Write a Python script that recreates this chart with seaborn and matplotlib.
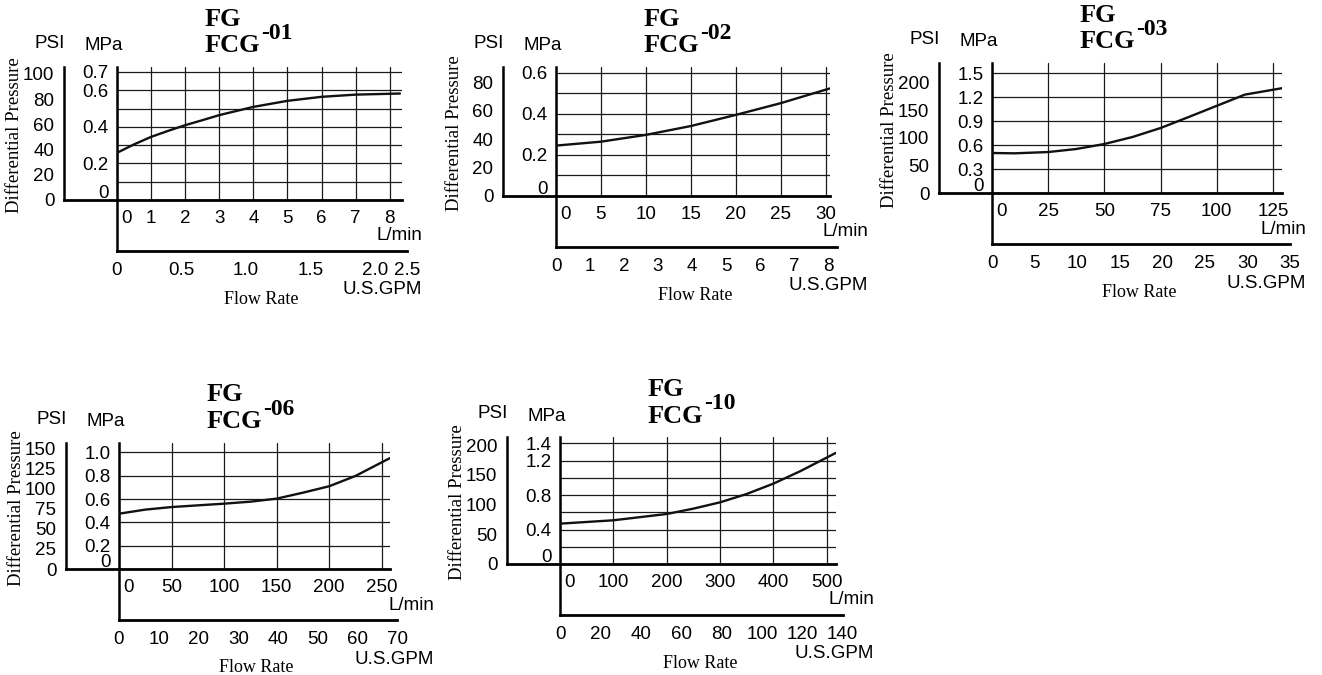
import matplotlib
matplotlib.use("Agg")
import matplotlib.pyplot as plt
import matplotlib.transforms as mtransforms
import pandas as pd
import seaborn as sns

# differential pressure curves
# flow in L/min, pressure drop in MPa
flow_01 = [0, 0.5, 1, 1.5, 2, 2.5, 3, 4, 5, 6, 7, 8.3]
mpa_01 = [0.258, 0.304, 0.345, 0.378, 0.409, 0.436, 0.464, 0.509, 0.542, 0.564, 0.576, 0.582]

flow_02 = [0, 5, 10, 15, 20, 25, 30.5]
mpa_02 = [0.245, 0.264, 0.297, 0.340, 0.394, 0.451, 0.523]

flow_03 = [0, 10, 25, 37.5, 50, 62.5, 75, 87.5, 100, 112.5, 129]
mpa_03 = [0.50, 0.496, 0.512, 0.55, 0.6125, 0.70, 0.8125, 0.95, 1.09, 1.23, 1.31]

flow_06 = [0, 25, 50, 100, 125, 150, 175, 200, 225, 258]
mpa_06 = [0.474, 0.509, 0.531, 0.56, 0.577, 0.603, 0.654, 0.709, 0.797, 0.951]

flow_10 = [0, 100, 200, 250, 300, 350, 400, 450, 517]
mpa_10 = [0.468, 0.507, 0.58, 0.642, 0.715, 0.812, 0.932, 1.075, 1.288]

# axis ticks
lpm_ticks_01 = [0, 1, 2, 3, 4, 5, 6, 7, 8]
lpm_ticks_02 = [0, 5, 10, 15, 20, 25, 30]
lpm_ticks_03 = [0, 25, 50, 75, 100, 125]
lpm_ticks_06 = [0, 50, 100, 150, 200, 250]
lpm_ticks_10 = [0, 100, 200, 300, 400, 500]

mpa_grid_01 = [0, 0.1, 0.2, 0.3, 0.4, 0.5, 0.6, 0.7]
mpa_labels_01 = ['0', '', '0.2', '', '0.4', '', '0.6', '0.7']
mpa_grid_02 = [0, 0.1, 0.2, 0.3, 0.4, 0.5, 0.6]
mpa_labels_02 = ['0', '', '0.2', '', '0.4', '', '0.6']
mpa_grid_03 = [0, 0.3, 0.6, 0.9, 1.2, 1.5]
mpa_labels_03 = ['0', '0.3', '0.6', '0.9', '1.2', '1.5']
mpa_grid_06 = [0, 0.2, 0.4, 0.6, 0.8, 1.0]
mpa_labels_06 = ['0', '0.2', '0.4', '0.6', '0.8', '1.0']
mpa_grid_10 = [0, 0.2, 0.4, 0.6, 0.8, 1.0, 1.2, 1.4]
mpa_labels_10 = ['0', '', '0.4', '', '0.8', '', '1.2', '1.4']

psi_ticks_01 = [0, 20, 40, 60, 80, 100]
psi_ticks_02 = [0, 20, 40, 60, 80]
psi_ticks_03 = [0, 50, 100, 150, 200]
psi_ticks_06 = [0, 25, 50, 75, 100, 125, 150]
psi_ticks_10 = [0, 50, 100, 150, 200]

gpm_ticks_01 = [0, 0.25, 0.5, 0.75, 1.0, 1.25, 1.5, 1.75, 2.0, 2.25]
gpm_labels_01 = ['0', '', '0.5', '', '1.0', '', '1.5', '', '2.0', '2.5']
gpm_ticks_02 = [0, 1, 2, 3, 4, 5, 6, 7, 8]
gpm_ticks_03 = [0, 5, 10, 15, 20, 25, 30, 35]
gpm_ticks_06 = [0, 10, 20, 30, 40, 50, 60, 70]
gpm_ticks_10 = [0, 20, 40, 60, 80, 100, 120, 140]

PSI_PER_MPA = 145.038
LPM_PER_GPM = 3.78541

sns.set_theme(style="white", rc={"axes.edgecolor": "black", "text.color": "black",
                                 "xtick.color": "black", "ytick.color": "black"})
plt.rcParams['font.family'] = ['Liberation Sans', 'DejaVu Sans']
SERIF = ['Liberation Serif', 'DejaVu Serif']
FS = 13.5

W, H = 1322, 675
fig = plt.figure(figsize=(W / 100, H / 100), dpi=100)


def fx(x):
    return x / W


def fy(y):
    return 1 - y / H


panels = [
    dict(name='-01', flow=flow_01, mpa=mpa_01, lpm=lpm_ticks_01, grid=mpa_grid_01, mlab=mpa_labels_01,
         psi=psi_ticks_01, gpm=gpm_ticks_01, glab=gpm_labels_01,
         left=117, right=402, top=67, bottom=200, xmax=8.36, ymax=0.727, gpm_end=2.25, unit_dx=20),
    dict(name='-02', flow=flow_02, mpa=mpa_02, lpm=lpm_ticks_02, grid=mpa_grid_02, mlab=mpa_labels_02,
         psi=psi_ticks_02, gpm=gpm_ticks_02, glab=[str(v) for v in gpm_ticks_02],
         left=556, right=830, top=67, bottom=196, xmax=30.5, ymax=0.627, gpm_end=8.27, unit_dx=38),
    dict(name='-03', flow=flow_03, mpa=mpa_03, lpm=lpm_ticks_03, grid=mpa_grid_03, mlab=mpa_labels_03,
         psi=psi_ticks_03, gpm=gpm_ticks_03, glab=[str(v) for v in gpm_ticks_03],
         left=992, right=1282, top=63, bottom=193, xmax=129, ymax=1.625, gpm_end=35, unit_dx=24),
    dict(name='-06', flow=flow_06, mpa=mpa_06, lpm=lpm_ticks_06, grid=mpa_grid_06, mlab=mpa_labels_06,
         psi=psi_ticks_06, gpm=gpm_ticks_06, glab=[str(v) for v in gpm_ticks_06],
         left=119, right=390, top=443, bottom=569, xmax=258, ymax=1.08, gpm_end=70, unit_dx=44),
    dict(name='-10', flow=flow_10, mpa=mpa_10, lpm=lpm_ticks_10, grid=mpa_grid_10, mlab=mpa_labels_10,
         psi=psi_ticks_10, gpm=gpm_ticks_10, glab=[str(v) for v in gpm_ticks_10],
         left=560, right=836, top=437, bottom=564, xmax=517.5, ymax=1.473, gpm_end=140, unit_dx=38),
]

for p in panels:
    left, right, top, bottom = p['left'], p['right'], p['top'], p['bottom']
    w, h = right - left, bottom - top

    # main grid box: L/min against MPa
    ax = fig.add_axes([fx(left), fy(bottom), w / W, h / H])
    df = pd.DataFrame({'flow': p['flow'], 'mpa': p['mpa']})
    sns.lineplot(data=df, x='flow', y='mpa', ax=ax, color='#111111', lw=1.7, zorder=3)
    ax.set_xlim(0, p['xmax'])
    ax.set_ylim(0, p['ymax'])
    ax.set_xticks(p['lpm'], labels=[str(v) for v in p['lpm']])
    ax.set_yticks(p['grid'], labels=p['mlab'])
    ax.set_xlabel('')
    ax.set_ylabel('')
    ax.grid(True, color='#1a1a1a', lw=0.9)
    ax.tick_params(length=0, labelsize=FS)
    ax.tick_params(axis='x', pad=7.5)
    ax.tick_params(axis='y', pad=6)
    ax.spines['top'].set_visible(False)
    ax.spines['right'].set_visible(False)
    ax.spines['left'].set_linewidth(1.8)
    ax.spines['bottom'].set_linewidth(2.0)
    lab0 = ax.xaxis.get_major_ticks()[0].label1
    lab0.set_horizontalalignment('left')
    lab0.set_transform(lab0.get_transform() + mtransforms.ScaledTranslation(3 / 72, 0, fig.dpi_scale_trans))
    ylab0 = ax.yaxis.get_major_ticks()[0].label1
    ylab0.set_verticalalignment('baseline')
    ylab0.set_transform(ylab0.get_transform() + mtransforms.ScaledTranslation(0, 1.5 / 72, fig.dpi_scale_trans))

    # U.S.GPM axis below
    px_lpm = w / p['xmax']
    gw = p['gpm_end'] * LPM_PER_GPM * px_lpm
    gy = bottom + 51
    gax = fig.add_axes([fx(left), fy(gy), gw / W, (gy - bottom) / H])
    gax.set_xlim(0, p['gpm_end'])
    gax.set_ylim(0, 1)
    gax.set_xticks(p['gpm'], labels=p['glab'])
    gax.set_yticks([])
    gax.patch.set_visible(False)
    gax.spines['top'].set_visible(False)
    gax.spines['right'].set_visible(False)
    gax.spines['left'].set_linewidth(1.8)
    gax.spines['bottom'].set_linewidth(2.0)
    gax.tick_params(axis='x', direction='in', length=4.5, width=1, pad=8, labelsize=FS)

    # PSI axis on the left
    pax = fig.add_axes([fx(left - 53), fy(bottom), 53 / W, h / H])
    pax.set_xlim(0, 1)
    pax.set_ylim(0, p['ymax'] * PSI_PER_MPA)
    pax.set_yticks(p['psi'], labels=[str(v) for v in p['psi']])
    pax.set_xticks([])
    pax.patch.set_visible(False)
    pax.spines['top'].set_visible(False)
    pax.spines['right'].set_visible(False)
    pax.spines['left'].set_linewidth(1.8)
    pax.spines['bottom'].set_linewidth(2.0)
    pax.tick_params(axis='y', direction='in', length=5.5, width=1, pad=7, labelsize=FS)

    # labels
    fig.text(fx(left - 67), fy(top - 23), 'PSI', ha='center', va='center', fontsize=FS)
    fig.text(fx(left - 13), fy(top - 21), 'MPa', ha='center', va='center', fontsize=FS)
    fig.text(fx(left - 102), fy((top + bottom) / 2 + 2), 'Differential Pressure', rotation=90,
             ha='center', va='center', fontsize=13.5, family=SERIF)
    fig.text(fx(right + p['unit_dx']), fy(bottom + 36), 'L/min', ha='right', va='center', fontsize=FS)
    fig.text(fx(right + p['unit_dx']), fy(gy + 39), 'U.S.GPM', ha='right', va='center', fontsize=FS)
    fig.text(fx((left + right) / 2 + 2), fy(gy + 48), 'Flow Rate', ha='center', va='center',
             fontsize=13, family=SERIF)

    fig.text(fx(left + 88), fy(top - 48), 'FG', ha='left', va='center', fontsize=19,
             fontweight='bold', family=SERIF)
    fcg = fig.text(fx(left + 88), fy(top - 21), 'FCG', ha='left', va='center', fontsize=19,
                   fontweight='bold', family=SERIF)
    ax.annotate(p['name'], xy=(1, 0.5), xycoords=fcg, xytext=(0.5, 9), textcoords='offset points',
                ha='left', va='center', fontsize=17, fontweight='bold', family=SERIF)

fig.savefig('out.png', dpi=100)
